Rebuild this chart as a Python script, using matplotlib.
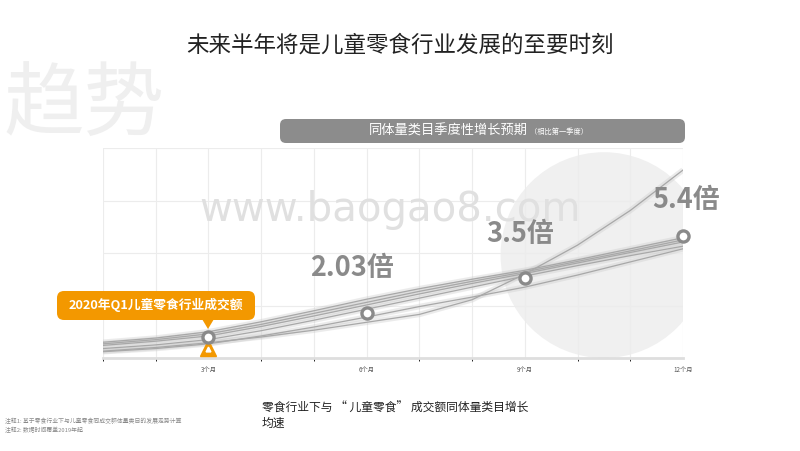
import matplotlib.pyplot as plt
from matplotlib.patches import FancyBboxPatch, Polygon, Ellipse

plt.rcParams['font.family'] = ['Noto Sans CJK SC', 'DejaVu Sans']

# months on the x axis, index values (one unit = one grid row)
months = [1, 2, 3, 4, 5, 6, 7, 8, 9, 10, 11, 12]
line_top = [0.30, 0.38, 0.50, 0.69, 0.90, 1.12, 1.32, 1.50, 1.67, 1.87, 2.08, 2.29]
line_mid1 = [0.27, 0.35, 0.46, 0.64, 0.85, 1.06, 1.27, 1.46, 1.64, 1.84, 2.04, 2.25]
line_mid2 = [0.24, 0.32, 0.42, 0.60, 0.80, 1.01, 1.22, 1.42, 1.61, 1.81, 2.01, 2.21]
line_mid3 = [0.18, 0.25, 0.35, 0.52, 0.72, 0.93, 1.14, 1.35, 1.56, 1.76, 1.95, 2.13]
line_low = [0.12, 0.18, 0.27, 0.42, 0.59, 0.78, 0.98, 1.16, 1.35, 1.58, 1.83, 2.08]
line_steep = [0.13, 0.20, 0.29, 0.40, 0.53, 0.68, 0.83, 1.11, 1.60, 2.15, 2.81, 3.58]
all_lines = [line_top, line_mid1, line_mid2, line_mid3, line_low, line_steep]

marker_x = [3, 6, 9, 12]
marker_y = [0.40, 0.86, 1.52, 2.32]
tick_labels = ['3个月', '6个月', '9个月', '12个月']
ratio_labels = ['2.03倍', '3.5倍', '5.4倍']
ratio_pos = [(5.72, 1.71), (8.91, 2.36), (12.06, 3.01)]

W, H = 800, 451
fig = plt.figure(figsize=(8, 4.51), dpi=100)
fig.patch.set_facecolor('white')

ax = fig.add_axes([103 / W, 1 - 358 / H, 580 / W, 210 / H])
ax.set_xlim(1, 12)
ax.set_ylim(0, 4)
for s in ['top', 'right', 'left']:
    ax.spines[s].set_visible(False)
ax.spines['bottom'].set_color('#dedede')
ax.spines['bottom'].set_linewidth(2)
ax.set_xticks(range(1, 13), minor=True)
ax.set_xticks(marker_x)
ax.set_xticklabels(tick_labels, fontsize=4.5, color='#555555')
ax.set_yticks([0, 1, 2, 3, 4])
ax.set_yticklabels([])
ax.tick_params(length=0, pad=6)
ax.grid(True, which='both', color='#ececec', lw=0.8)
ax.set_axisbelow(True)

# big light circle behind the end of the curves
ax.add_patch(Ellipse((10.5, 1.96), 3.92, 3.92, color='#f0f0f0', zorder=0.5, lw=0))

ax.text(6.45, 2.82, 'www.baogao8.com', fontsize=29, color='#e0e0e0',
        ha='center', va='center', family='DejaVu Sans', zorder=0.8)

for ys in all_lines:
    ax.plot(months, ys, color='#c8c8c8', lw=4, alpha=0.35, zorder=2,
            solid_capstyle='butt', solid_joinstyle='round')
    ax.plot(months, ys, color='#a8a8a8', lw=0.9, zorder=3, solid_joinstyle='round')

# orange Q1 marker under the 3 month point
ax.plot(3, 0.20, marker='^', ms=11, color='#f39800', zorder=4, clip_on=False)
ax.plot(3, 0.17, marker='^', ms=3.5, color='white', zorder=5, clip_on=False)

ax.plot(marker_x, marker_y, 'o', ms=8, mfc='white', mec='#8a8a8a', mew=2.4,
        zorder=6, clip_on=False)

for lab, (x, y) in zip(ratio_labels, ratio_pos):
    ax.text(x, y, lab, fontsize=19.5, fontweight='bold', color='#8a8a8a',
            ha='center', va='center', zorder=7, clip_on=False)

# overlay in pixel coordinates for the boxes and texts
ov = fig.add_axes([0, 0, 1, 1], zorder=10)
ov.set_xlim(0, W)
ov.set_ylim(H, 0)
ov.axis('off')
ov.patch.set_alpha(0)

ov.text(84, 106, '趋势', fontsize=58, color='#efefef', ha='center', va='center')

ov.text(400, 45, '未来半年将是儿童零食行业发展的至要时刻', fontsize=16.2,
        color='#222222', ha='center', va='center')

ov.add_patch(FancyBboxPatch((280, 119), 405, 24,
                            boxstyle='round,pad=0,rounding_size=6',
                            fc='#8c8c8c', ec='none'))
ov.text(528, 131, '同体量类目季度性增长预期', fontsize=9.5, color='white',
        ha='right', va='center')
ov.text(530, 131.5, '（相比第一季度）', fontsize=5.2, color='white',
        ha='left', va='center')

ov.add_patch(FancyBboxPatch((57, 291), 198, 29,
                            boxstyle='round,pad=0,rounding_size=7',
                            fc='#f39800', ec='none'))
ov.add_patch(Polygon([(202, 319), (214, 319), (208, 329)], closed=True,
                     fc='#f39800', ec='none'))
ov.text(156, 305, '2020年Q1儿童零食行业成交额', fontsize=9.2, fontweight='bold',
        color='white', ha='center', va='center')

ov.text(262, 416, '零食行业下与 “ 儿童零食” 成交额同体量类目增长\n均速',
        fontsize=8.5, color='#222222', ha='left', va='center', linespacing=1.25)

ov.text(5, 421, '注释1: 基于零食行业下与儿童零食同成交额体量类目的发展走势计算',
        fontsize=4.2, color='#888888', ha='left', va='center')
ov.text(5, 430, '注释2: 数据时间覆盖2019年起', fontsize=4.2, color='#888888',
        ha='left', va='center')

fig.savefig('out.png', dpi=100)
